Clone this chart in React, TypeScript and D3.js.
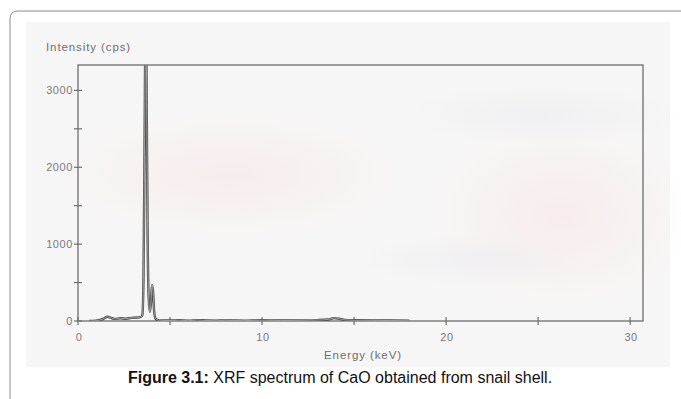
import { useEffect, useRef } from 'react'
import * as d3 from 'd3'

// spectrum (keV, cps)
const energy = [0.6, 1.0, 1.4, 1.6, 1.8, 2.0, 2.3, 2.6, 2.9, 3.2, 3.4, 3.5, 3.56, 3.62, 3.66, 3.7, 3.74, 3.78, 3.84, 3.9, 3.96, 4.02, 4.08, 4.14, 4.22, 4.35, 4.6, 5.0, 5.5, 6.0, 6.5, 7.0, 7.5, 8.0, 9.0, 10.0, 11.0, 12.0, 13.0, 13.6, 13.9, 14.2, 14.5, 15.0, 16.0, 17.0, 18.0]
const counts = [0, 4, 30, 55, 40, 28, 35, 30, 40, 45, 50, 80, 600, 2400, 3600, 3600, 2600, 1200, 300, 120, 220, 470, 380, 120, 30, 12, 8, 6, 10, 5, 12, 6, 4, 8, 5, 10, 6, 8, 12, 20, 38, 30, 14, 10, 8, 6, 4]

const yTicks = [0, 1000, 2000, 3000]
const yMinor = [500, 1500, 2500]
const xTicks = [0, 10, 20, 30]
const xMinor = [5, 15, 25]

const W = 681
const H = 399
const font = 'Arial, "Liberation Sans", sans-serif'

export default function App() {
  const svgRef = useRef<SVGSVGElement>(null)

  useEffect(() => {
    if (!svgRef.current) return
    const svg = d3.select(svgRef.current)
    svg.selectAll('*').remove()

    const margin = { left: 78, right: 643, top: 65, bottom: 321 }

    const x = d3.scaleLinear().domain([0, 30.7]).range([margin.left, margin.right])
    const y = d3.scaleLinear().domain([0, 3330]).range([margin.bottom, margin.top])

    // page frame
    svg.append('rect')
      .attr('width', W).attr('height', H)
      .style('fill', '#fff')

    svg.append('path')
      .attr('d', `M10,${H + 5} L10,19 Q10,11 18,11 L${W + 5},11`)
      .style('fill', 'none')
      .style('stroke', '#8c8c8c')
      .style('stroke-width', '1px')

    // scanned paper
    const defs = svg.append('defs')
    const g1 = defs.append('radialGradient').attr('id', 'pink')
    g1.append('stop').attr('offset', '0%').attr('stop-color', '#f8e8e8').attr('stop-opacity', 0.7)
    g1.append('stop').attr('offset', '100%').attr('stop-color', '#f8e8e8').attr('stop-opacity', 0)
    const g2 = defs.append('radialGradient').attr('id', 'grey')
    g2.append('stop').attr('offset', '0%').attr('stop-color', '#e9eaee').attr('stop-opacity', 0.5)
    g2.append('stop').attr('offset', '100%').attr('stop-color', '#e9eaee').attr('stop-opacity', 0)

    svg.append('rect')
      .attr('x', 26).attr('y', 22).attr('width', 644).attr('height', 345)
      .style('fill', '#f7f6f6')
    svg.append('ellipse')
      .attr('cx', 230).attr('cy', 175).attr('rx', 170).attr('ry', 60)
      .style('fill', 'url(#pink)')
    svg.append('ellipse')
      .attr('cx', 560).attr('cy', 215).attr('rx', 130).attr('ry', 90)
      .style('fill', 'url(#pink)')
    svg.append('ellipse')
      .attr('cx', 540).attr('cy', 115).attr('rx', 140).attr('ry', 30)
      .style('fill', 'url(#grey)')
    svg.append('ellipse')
      .attr('cx', 470).attr('cy', 260).attr('rx', 110).attr('ry', 25)
      .style('fill', 'url(#grey)')

    // plot frame
    svg.append('rect')
      .attr('x', margin.left).attr('y', margin.top)
      .attr('width', margin.right - margin.left)
      .attr('height', margin.bottom - margin.top)
      .style('fill', 'none')
      .style('stroke', '#6e6e6e')
      .style('stroke-width', '1.3px')

    // y ticks
    yTicks.concat(yMinor).forEach(t => {
      svg.append('line')
        .attr('x1', margin.left - 4).attr('x2', margin.left + 4)
        .attr('y1', y(t)).attr('y2', y(t))
        .style('stroke', '#6e6e6e').style('stroke-width', '1.2px')
    })
    yTicks.forEach(t => {
      svg.append('text')
        .attr('x', margin.left - 5).attr('y', y(t) + 4)
        .attr('text-anchor', 'end')
        .style('fill', '#7a7a7a').style('font-size', '11px').style('font-family', font)
        .style('letter-spacing', '0.6px')
        .text(t)
    })

    // x ticks
    xTicks.concat(xMinor).forEach(t => {
      svg.append('line')
        .attr('x1', x(t)).attr('x2', x(t))
        .attr('y1', margin.bottom - 4).attr('y2', margin.bottom + 4)
        .style('stroke', '#6e6e6e').style('stroke-width', '1.2px')
    })
    xTicks.forEach(t => {
      svg.append('text')
        .attr('x', x(t) + 1).attr('y', margin.bottom + 20)
        .attr('text-anchor', 'middle')
        .style('fill', '#7a7a7a').style('font-size', '11px').style('font-family', font)
        .style('letter-spacing', '0.6px')
        .text(t)
    })

    // spectrum
    defs.append('clipPath').attr('id', 'plot')
      .append('rect')
      .attr('x', margin.left).attr('y', margin.top)
      .attr('width', margin.right - margin.left)
      .attr('height', margin.bottom - margin.top)

    const pts = energy.map((e, i) => [e, counts[i]] as [number, number])
    const line = d3.line<[number, number]>()
      .x(d => x(d[0]))
      .y(d => y(d[1]))
      .curve(d3.curveMonotoneX)

    svg.append('path')
      .datum(pts)
      .attr('d', line)
      .attr('clip-path', 'url(#plot)')
      .style('fill', 'none')
      .style('stroke', '#4a4a4a')
      .style('stroke-width', '2.4px')
    svg.append('path')
      .datum(pts)
      .attr('d', line)
      .attr('clip-path', 'url(#plot)')
      .style('fill', 'none')
      .style('stroke', '#d8d8d8')
      .style('stroke-width', '0.6px')

    // axis titles
    svg.append('text')
      .attr('x', 46).attr('y', 51)
      .style('fill', '#6e6e6e').style('font-size', '11.5px').style('font-family', font)
      .style('letter-spacing', '0.9px')
      .text('Intensity (cps)')
    svg.append('text')
      .attr('x', 363).attr('y', 359)
      .attr('text-anchor', 'middle')
      .style('fill', '#6e6e6e').style('font-size', '11.5px').style('font-family', font)
      .style('letter-spacing', '0.9px')
      .text('Energy (keV)')

    // caption
    const cap = svg.append('text')
      .attr('x', 340).attr('y', 383)
      .attr('text-anchor', 'middle')
      .style('fill', '#111').style('font-size', '16px').style('font-family', font)
    cap.append('tspan').style('font-weight', 'bold').text('Figure 3.1:')
    cap.append('tspan').text(' XRF spectrum of CaO obtained from snail shell.')
  }, [])

  return (
    <svg ref={svgRef} width={W} height={H}
      style={{ position: 'absolute', left: 0, top: 0, display: 'block' }} />
  )
}
